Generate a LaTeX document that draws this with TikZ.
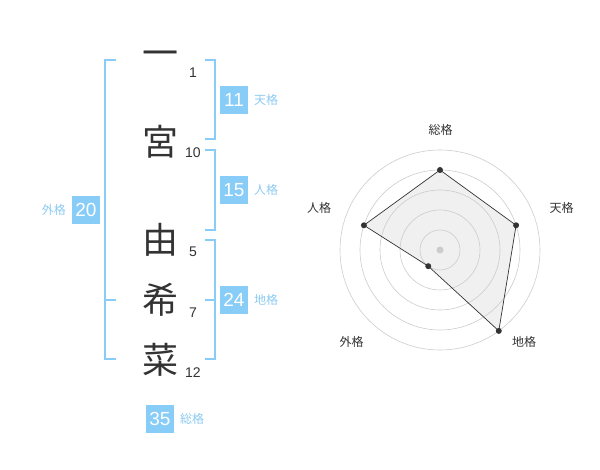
\documentclass[tikz,border=0pt]{standalone}
\usepackage{fontspec}
\setmainfont{Liberation Sans}
\newfontfamily\cjk{Noto Sans CJK JP}
\definecolor{kakucolor}{HTML}{88CCF8}
\definecolor{kakutext}{HTML}{8CCAF2}
\definecolor{inkcolor}{HTML}{333333}
\definecolor{ringcolor}{HTML}{CCCCCC}
\definecolor{areacolor}{HTML}{F0F0F0}
\begin{document}
\begin{tikzpicture}[x=1pt,y=-1pt,
    bracket/.style={draw=kakucolor,line width=2pt},
    kakubox/.style={fill=kakucolor,text=white,minimum size=28pt,inner sep=0pt,font=\fontsize{19}{19}\selectfont},
    kakulabel/.style={text=kakutext,inner sep=0pt,font=\cjk\fontsize{12}{12}\selectfont},
    moji/.style={text=inkcolor,inner sep=0pt,font=\cjk\fontsize{36}{36}\selectfont},
    kakusu/.style={text=inkcolor,inner sep=0pt,font=\fontsize{14}{14}\selectfont},
    axislabel/.style={text=inkcolor,inner sep=0pt,font=\cjk\fontsize{12}{12}\selectfont}]
    \useasboundingbox (0,0) rectangle (600,470);
    % name characters
    \node[moji] (c1) at (160,59) {一};
    \node[moji] (c2) at (160,142) {宮};
    \node[moji] (c3) at (160,240) {由};
    \node[moji] (c4) at (160,300) {希};
    \node[moji] (c5) at (160,360) {菜};
    % stroke counts
    \node[kakusu] (n1) at (193,73) {1};
    \node[kakusu] (n2) at (193,153) {10};
    \node[kakusu] (n3) at (193,252) {5};
    \node[kakusu] (n4) at (193,313) {7};
    \node[kakusu] (n5) at (193,373) {12};
    % brackets
    \draw[bracket] (116,60) -- (105,60) -- (105,359) -- (116,359);
    \draw[bracket] (105,300) -- (116,300);
    \draw[bracket] (205,60) -- (215,60) -- (215,139) -- (205,139);
    \draw[bracket] (205,150) -- (215,150) -- (215,230) -- (205,230);
    \draw[bracket] (205,240) -- (215,240) -- (215,359) -- (205,359);
    \draw[bracket] (205,300) -- (215,300);
    % kaku boxes
    \node[kakubox] (ten) at (234,100) {11};
    \node[kakulabel,anchor=west] (tenl) at (254,100) {天格};
    \node[kakubox] (jin) at (234,190) {15};
    \node[kakulabel,anchor=west] (jinl) at (254,190) {人格};
    \node[kakubox] (chi) at (234,300) {24};
    \node[kakulabel,anchor=west] (chil) at (254,300) {地格};
    \node[kakubox] (gai) at (86,210) {20};
    \node[kakulabel,anchor=east] (gail) at (66,210) {外格};
    \node[kakubox] (sou) at (160,419) {35};
    \node[kakulabel,anchor=west] (soul) at (180,419) {総格};
    % radar chart
    \begin{scope}[shift={(440,250)}]
        \coordinate (p1) at (-90:80);
        \coordinate (p2) at (-18:80);
        \coordinate (p3) at (54:100);
        \coordinate (p4) at (126:20);
        \coordinate (p5) at (198:80);
        \fill[areacolor] (p1) -- (p2) -- (p3) -- (p4) -- (p5) -- cycle;
        \foreach \r in {20,40,60,80,100} {
            \draw[ringcolor,line width=0.6pt] (0,0) circle[radius=\r];
        }
        \fill[ringcolor] (0,0) circle[radius=3.5];
        \draw[inkcolor,line width=0.7pt] (p1) -- (p2) -- (p3) -- (p4) -- (p5) -- cycle;
        \foreach \p in {p1,p2,p3,p4,p5} {
            \fill[inkcolor] (\p) circle[radius=3];
        }
        \node[axislabel] (a1) at (0.7,-120) {総格};
        \node[axislabel] (a2) at (121.7,-42) {天格};
        \node[axislabel] (a3) at (84,92) {地格};
        \node[axislabel] (a4) at (-88.3,92) {外格};
        \node[axislabel] (a5) at (-121,-42) {人格};
    \end{scope}
\end{tikzpicture}
\end{document}
